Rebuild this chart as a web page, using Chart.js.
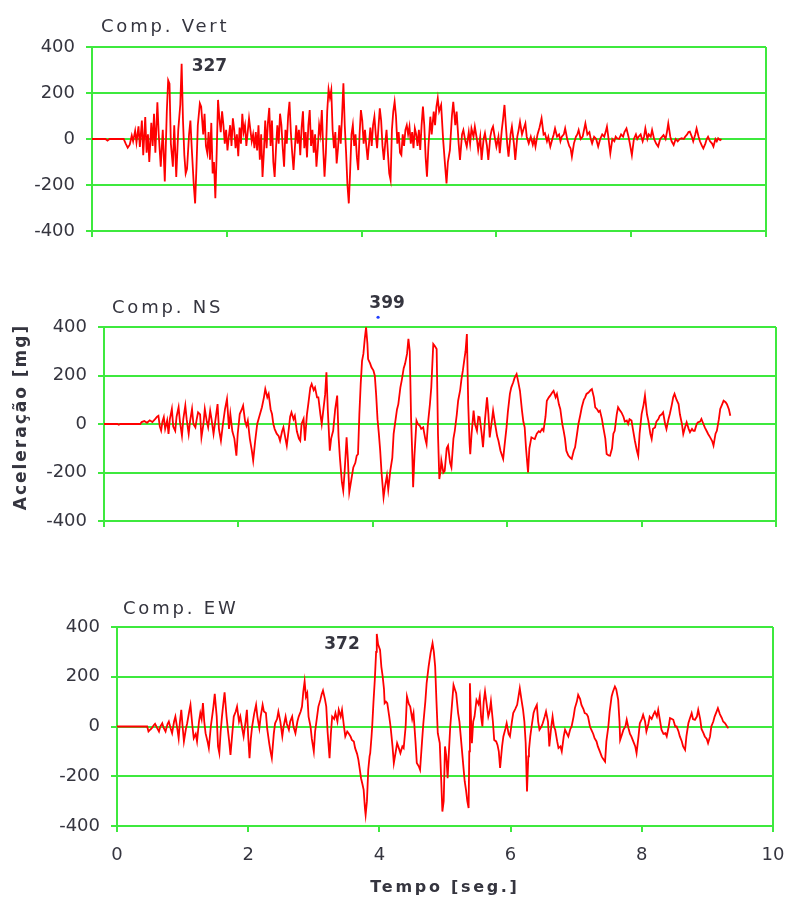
<!DOCTYPE html>
<html>
<head>
<meta charset="utf-8">
<script src="https://cdn.jsdelivr.net/npm/chart.js@4.4.1/dist/chart.umd.min.js"></script>
<style>
  body { margin: 0; background: #fff; }
  #wrap { position: relative; width: 785px; height: 899px; }
  canvas { position: absolute; left: 0; }
</style>
</head>
<body>
<div id="wrap">
  <canvas id="cVert" width="785" height="262" style="top:0"></canvas>
  <canvas id="cNS" width="785" height="300" style="top:262px"></canvas>
  <canvas id="cEW" width="785" height="337" style="top:562px"></canvas>
</div>
<script>
// axis ticks
const timeTicks = [0, 2, 4, 6, 8, 10];
const accelTicks = [-400, -200, 0, 200, 400];

// peak values written on each panel
const panelNames = ['Comp. Vert', 'Comp. NS', 'Comp. EW'];
const peakTime = [1.33, 3.90, 3.96];
const peakValue = [327, 399, 372];

// Comp. Vert  (time [s], acceleration [mg])
const vertTime = [0,0.20,0.23,0.26,0.47,0.50,0.53,0.56,0.59,0.61,0.64,0.66,0.69,0.71,0.74,0.76,0.79,0.81,0.83,0.85,0.88,0.90,0.92,0.94,0.97,0.99,1.02,1.05,1.08,1.11,1.13,1.15,1.17,1.20,1.22,1.25,1.28,1.31,1.33,1.35,1.37,1.39,1.41,1.44,1.46,1.48,1.51,1.53,1.55,1.57,1.60,1.62,1.65,1.67,1.69,1.71,1.73,1.75,1.77,1.79,1.81,1.83,1.85,1.87,1.89,1.91,1.93,1.95,1.97,1.99,2.01,2.03,2.05,2.07,2.09,2.11,2.13,2.15,2.17,2.19,2.21,2.23,2.25,2.27,2.29,2.31,2.33,2.35,2.37,2.39,2.41,2.43,2.45,2.47,2.49,2.51,2.53,2.55,2.57,2.59,2.61,2.63,2.65,2.67,2.69,2.71,2.73,2.75,2.77,2.79,2.81,2.83,2.85,2.87,2.89,2.91,2.93,2.95,2.97,2.99,3.01,3.03,3.05,3.07,3.09,3.11,3.13,3.15,3.17,3.19,3.21,3.23,3.25,3.27,3.29,3.31,3.33,3.35,3.37,3.39,3.41,3.43,3.45,3.47,3.49,3.51,3.53,3.55,3.57,3.59,3.61,3.63,3.65,3.67,3.69,3.71,3.73,3.75,3.77,3.79,3.81,3.83,3.85,3.87,3.89,3.91,3.93,3.95,3.97,3.99,4.01,4.03,4.05,4.07,4.09,4.11,4.13,4.15,4.17,4.19,4.21,4.23,4.25,4.27,4.29,4.31,4.33,4.35,4.37,4.39,4.41,4.43,4.45,4.47,4.49,4.51,4.53,4.55,4.57,4.59,4.61,4.63,4.65,4.67,4.69,4.71,4.73,4.75,4.77,4.79,4.81,4.83,4.85,4.87,4.89,4.91,4.93,4.95,4.97,4.99,5.02,5.04,5.07,5.09,5.11,5.13,5.15,5.18,5.21,5.24,5.26,5.28,5.31,5.34,5.36,5.39,5.41,5.44,5.46,5.49,5.51,5.54,5.56,5.59,5.61,5.63,5.66,5.68,5.71,5.73,5.76,5.78,5.81,5.83,5.86,5.88,5.91,5.93,5.95,5.98,6.00,6.03,6.05,6.08,6.10,6.12,6.14,6.16,6.18,6.21,6.23,6.26,6.28,6.31,6.33,6.35,6.38,6.40,6.43,6.45,6.48,6.51,6.54,6.56,6.58,6.61,6.64,6.67,6.70,6.72,6.75,6.77,6.80,6.83,6.85,6.87,6.90,6.93,6.95,6.97,7.00,7.02,7.05,7.08,7.10,7.12,7.15,7.18,7.20,7.22,7.25,7.28,7.30,7.32,7.35,7.38,7.40,7.42,7.45,7.48,7.51,7.54,7.57,7.60,7.62,7.64,7.66,7.69,7.72,7.75,7.77,7.79,7.82,7.85,7.88,7.90,7.93,7.96,7.98,8.01,8.04,8.07,8.09,8.11,8.14,8.17,8.19,8.21,8.24,8.26,8.29,8.31,8.34,8.37,8.40,8.43,8.46,8.48,8.51,8.53,8.55,8.58,8.60,8.63,8.66,8.69,8.72,8.75,8.78,8.80,8.83,8.85,8.87,8.90,8.92,8.95,8.97,9.00,9.02,9.05,9.07,9.10,9.12,9.14,9.17,9.20,9.22,9.25,9.27,9.29,9.32,9.34];
const vertAccel = [0,0,-7,0,0,-20,-38,-25,15,-10,35,-15,55,-35,80,-70,95,-60,20,-100,70,-30,110,-60,160,20,-120,40,-185,120,255,240,-20,-120,60,-165,40,150,327,80,-70,-150,-130,20,80,-40,-200,-280,-120,60,155,140,20,110,-30,-60,30,-90,70,-150,-100,-258,-60,170,90,30,120,60,-20,40,-50,10,60,-30,90,40,-40,20,-75,50,-20,110,30,60,-30,30,90,40,-10,20,-40,30,-50,60,-90,20,-165,-60,80,-40,70,135,-30,80,-100,-165,-40,60,-20,110,60,-40,-120,40,-20,100,162,30,-60,-135,-40,60,-20,40,-70,50,120,-40,30,-80,60,126,-30,40,-60,20,-120,-40,60,20,126,-40,-164,-60,120,216,180,213,40,-40,30,-106,-40,60,-20,100,242,60,-60,-200,-280,-140,20,61,-30,20,-80,-135,20,126,80,-20,40,-30,-91,-20,50,-30,60,97,20,-40,50,133,80,-30,-91,-20,40,-60,-150,-178,40,120,162,100,-20,30,-60,-70,20,-30,40,60,20,54,-20,30,-40,46,20,-30,40,-48,60,141,60,-80,-164,-40,97,20,119,60,140,177,120,148,-4,-120,-193,-100,-48,100,162,60,119,-20,-91,20,39,-10,-33,30,-20,46,10,54,0,-48,10,-91,0,25,-30,-91,10,40,54,0,-33,10,-62,40,90,148,60,-20,-77,20,54,-20,-91,10,40,75,20,40,68,10,-19,10,-25,0,-33,20,50,90,20,25,-10,10,-33,0,20,46,10,20,-10,10,20,46,0,-30,-40,-77,-20,10,20,39,0,10,40,68,20,30,0,-19,10,0,-33,0,20,10,30,54,10,-62,0,-10,10,3,0,20,10,30,46,10,-20,-70,0,20,0,10,20,-10,10,46,0,20,10,39,0,-20,-33,0,10,17,0,30,68,10,-10,-26,0,-10,0,3,0,10,20,30,32,10,-10,20,46,10,-10,-30,-41,-20,0,10,-10,-20,-33,0,-10,3,-5,0];

// Comp. NS
const nsTime = [0,0.20,0.22,0.24,0.54,0.56,0.60,0.64,0.68,0.72,0.76,0.79,0.81,0.83,0.85,0.87,0.89,0.91,0.94,0.96,0.98,1.01,1.03,1.06,1.08,1.11,1.13,1.16,1.18,1.21,1.23,1.26,1.28,1.31,1.33,1.36,1.38,1.40,1.43,1.45,1.48,1.50,1.53,1.55,1.58,1.60,1.63,1.66,1.69,1.71,1.74,1.77,1.80,1.83,1.86,1.88,1.91,1.94,1.97,1.99,2.02,2.05,2.07,2.10,2.12,2.14,2.17,2.20,2.22,2.25,2.28,2.31,2.35,2.38,2.40,2.43,2.45,2.48,2.50,2.52,2.54,2.57,2.60,2.62,2.65,2.67,2.70,2.72,2.75,2.77,2.79,2.82,2.84,2.87,2.90,2.92,2.94,2.97,2.99,3.02,3.04,3.07,3.09,3.12,3.14,3.17,3.19,3.22,3.24,3.26,3.29,3.31,3.33,3.36,3.38,3.41,3.44,3.47,3.49,3.51,3.54,3.56,3.58,3.61,3.63,3.65,3.68,3.71,3.74,3.76,3.78,3.80,3.82,3.84,3.86,3.88,3.90,3.92,3.93,3.96,3.98,4.01,4.03,4.05,4.07,4.09,4.11,4.13,4.16,4.18,4.21,4.23,4.26,4.29,4.31,4.34,4.36,4.38,4.41,4.43,4.46,4.48,4.51,4.53,4.55,4.57,4.59,4.60,4.62,4.65,4.67,4.70,4.72,4.75,4.78,4.80,4.82,4.85,4.87,4.90,4.92,4.95,4.97,4.99,5.01,5.02,5.05,5.07,5.10,5.12,5.15,5.17,5.20,5.22,5.25,5.27,5.30,5.32,5.34,5.36,5.38,5.40,5.42,5.44,5.45,5.47,5.50,5.52,5.55,5.57,5.59,5.62,5.64,5.67,5.70,5.72,5.74,5.77,5.79,5.82,5.85,5.87,5.90,5.94,5.96,5.99,6.01,6.04,6.06,6.09,6.11,6.14,6.16,6.19,6.22,6.24,6.26,6.28,6.31,6.33,6.36,6.39,6.41,6.44,6.47,6.49,6.52,6.54,6.57,6.59,6.62,6.64,6.67,6.69,6.72,6.74,6.77,6.79,6.82,6.84,6.86,6.88,6.91,6.94,6.96,6.99,7.01,7.04,7.06,7.09,7.11,7.14,7.16,7.18,7.21,7.24,7.26,7.29,7.31,7.34,7.36,7.38,7.41,7.43,7.46,7.48,7.51,7.53,7.56,7.58,7.60,7.63,7.65,7.68,7.70,7.73,7.75,7.78,7.80,7.82,7.85,7.87,7.90,7.93,7.95,7.97,8.00,8.03,8.05,8.08,8.10,8.13,8.15,8.17,8.20,8.22,8.25,8.27,8.30,8.32,8.35,8.37,8.40,8.42,8.45,8.47,8.49,8.52,8.55,8.57,8.60,8.62,8.65,8.67,8.70,8.72,8.75,8.77,8.79,8.82,8.84,8.87,8.89,8.92,8.94,8.97,8.99,9.02,9.05,9.07,9.10,9.12,9.15,9.17,9.20,9.22,9.25,9.27,9.30,9.32];
const nsAccel = [0,0,-3,0,0,8,12,5,15,8,20,30,34,-10,-27,10,28,-20,15,-41,20,62,-10,-28,30,69,10,-48,20,76,20,-41,10,62,0,-14,20,48,40,-55,0,62,10,-14,55,20,-41,20,82,-20,-69,0,60,103,-20,41,-30,-60,-131,-40,41,60,76,10,-7,14,-60,-110,-151,-69,0,30,69,110,144,110,124,60,41,0,-21,-40,-50,-69,-30,-14,-60,-89,-20,30,48,20,34,-30,-60,-69,0,21,-69,40,82,150,165,140,151,110,110,40,0,48,120,213,60,-110,-60,-28,60,117,-50,-138,-240,-275,-200,-55,-150,-282,-230,-179,-160,-131,-124,40,165,260,289,350,399,330,268,250,234,220,199,120,20,-40,-110,-200,-302,-260,-213,-270,-193,-140,-41,20,60,82,150,179,230,248,290,351,300,20,-150,-261,-130,14,0,-7,-20,-14,-60,-83,0,82,150,330,323,309,-41,-227,-190,-151,-200,-193,-100,-89,-160,-179,-60,-28,40,96,140,186,220,261,300,371,82,-80,-124,-40,55,0,-28,30,28,-40,-96,20,110,40,-55,10,55,0,-50,-69,-110,-144,-90,-14,50,124,150,172,190,206,180,137,55,10,-14,-100,-200,-100,-55,-60,-62,-40,-30,-34,-20,-28,30,96,110,117,130,137,110,124,80,62,0,-28,-60,-110,-130,-140,-144,-110,-96,-40,0,40,69,100,110,124,130,140,144,110,69,60,50,55,20,-14,-60,-124,-130,-131,-100,-40,-28,40,69,55,48,30,10,14,0,20,14,-20,-69,-110,-131,-40,41,80,117,40,14,-40,-62,-20,-14,10,20,34,40,48,0,-21,20,41,80,110,124,100,82,40,0,-41,-10,7,-20,-34,-20,-28,-28,0,7,10,21,0,-14,-30,-41,-55,-70,-89,-40,-28,20,62,82,96,90,82,60,34];

// Comp. EW
const ewTime = [0,0.46,0.48,0.51,0.53,0.56,0.58,0.61,0.64,0.66,0.69,0.71,0.74,0.77,0.79,0.82,0.84,0.87,0.89,0.92,0.94,0.96,0.98,1.00,1.02,1.05,1.07,1.10,1.12,1.15,1.17,1.20,1.22,1.25,1.27,1.29,1.31,1.33,1.35,1.38,1.40,1.43,1.45,1.47,1.49,1.52,1.54,1.56,1.58,1.60,1.62,1.64,1.67,1.69,1.71,1.73,1.76,1.78,1.81,1.83,1.86,1.88,1.91,1.93,1.96,1.98,2.00,2.02,2.04,2.06,2.09,2.12,2.14,2.17,2.19,2.22,2.24,2.27,2.29,2.32,2.34,2.36,2.39,2.41,2.44,2.46,2.49,2.52,2.54,2.57,2.59,2.62,2.64,2.67,2.69,2.72,2.75,2.77,2.80,2.82,2.84,2.86,2.88,2.90,2.92,2.95,2.97,3.00,3.02,3.05,3.07,3.10,3.12,3.14,3.17,3.19,3.21,3.24,3.26,3.28,3.31,3.33,3.36,3.38,3.41,3.43,3.46,3.48,3.51,3.53,3.56,3.58,3.61,3.63,3.66,3.68,3.70,3.72,3.74,3.76,3.78,3.79,3.81,3.83,3.85,3.86,3.88,3.89,3.91,3.93,3.95,3.96,3.98,4.01,4.03,4.05,4.07,4.08,4.10,4.12,4.15,4.17,4.20,4.22,4.25,4.27,4.30,4.32,4.35,4.37,4.40,4.42,4.45,4.47,4.50,4.52,4.55,4.57,4.60,4.62,4.65,4.67,4.70,4.72,4.75,4.78,4.81,4.83,4.85,4.87,4.89,4.92,4.94,4.96,4.98,5.00,5.02,5.04,5.06,5.08,5.11,5.13,5.15,5.17,5.20,5.22,5.24,5.26,5.28,5.30,5.32,5.34,5.36,5.37,5.38,5.40,5.41,5.43,5.45,5.48,5.51,5.53,5.55,5.57,5.59,5.61,5.64,5.66,5.68,5.70,5.73,5.75,5.78,5.80,5.82,5.84,5.87,5.89,5.92,5.94,5.97,5.99,6.02,6.04,6.07,6.10,6.12,6.14,6.17,6.19,6.21,6.23,6.25,6.27,6.28,6.30,6.32,6.35,6.37,6.40,6.42,6.44,6.47,6.49,6.52,6.54,6.57,6.59,6.62,6.64,6.66,6.68,6.71,6.73,6.76,6.78,6.81,6.83,6.86,6.88,6.91,6.93,6.96,6.98,7.01,7.03,7.06,7.08,7.11,7.13,7.16,7.18,7.21,7.23,7.26,7.28,7.31,7.33,7.36,7.39,7.41,7.44,7.46,7.49,7.51,7.54,7.56,7.59,7.61,7.64,7.66,7.67,7.70,7.72,7.75,7.77,7.80,7.82,7.84,7.87,7.90,7.92,7.95,7.97,8.00,8.02,8.05,8.07,8.10,8.12,8.15,8.18,8.20,8.23,8.25,8.28,8.30,8.33,8.36,8.38,8.41,8.43,8.46,8.48,8.51,8.53,8.56,8.58,8.61,8.63,8.66,8.68,8.71,8.73,8.76,8.78,8.81,8.84,8.86,8.89,8.91,8.94,8.96,8.99,9.01,9.04,9.06,9.09,9.11,9.14,9.16,9.19,9.22,9.24,9.27,9.30,9.32];
const ewAccel = [0,0,-20,-12,-7,5,11,-5,-20,0,13,-5,-20,10,20,-10,-27,20,40,-10,-47,20,67,0,-60,-10,13,60,87,0,-47,-30,-60,20,54,30,94,20,-27,-60,-87,0,40,80,131,40,-80,-107,-20,40,90,137,40,-13,-60,-114,-20,40,60,80,20,40,-10,-40,20,67,-40,-127,-50,0,50,87,40,-7,40,87,60,54,-10,-67,-100,-127,-30,13,30,60,20,-40,0,40,10,-13,20,40,0,-27,20,40,60,80,140,181,120,134,40,0,-50,-100,-20,40,80,107,130,145,110,80,-20,-127,-30,40,30,54,20,67,40,67,0,-40,-20,-27,-40,-54,-60,-87,-110,-134,-170,-208,-230,-255,-330,-355,-300,-174,-120,-107,-40,0,100,188,300,372,330,308,240,201,150,94,100,94,40,0,-80,-147,-100,-67,-90,-107,-80,-87,0,121,90,80,30,54,-60,-147,-160,-174,-60,13,100,174,241,295,335,300,241,100,-27,-67,-200,-342,-300,-80,-120,-208,-100,0,100,167,150,134,54,20,-40,-100,-160,-220,-255,-300,-328,-100,174,0,-67,20,40,107,90,121,40,0,100,141,80,40,60,101,20,-54,-60,-74,-100,-167,-80,-40,-10,13,-30,-40,20,54,70,87,120,154,100,67,20,-67,-261,-120,-94,-40,0,54,70,87,20,-13,0,13,40,60,20,-80,0,40,0,-13,-60,-87,-80,-100,-40,-13,-30,-40,-10,0,40,74,100,127,110,87,70,54,50,40,0,-13,-30,-47,-60,-80,-100,-121,-130,-141,-60,0,60,121,140,161,150,107,20,-54,-30,-13,0,27,-10,-30,-40,-60,-80,-107,-40,13,30,47,20,-20,10,40,30,50,60,40,67,20,-13,-30,-27,-40,0,34,30,27,0,0,-20,-40,-60,-80,-94,-40,13,30,54,30,27,40,67,30,-10,-27,-40,-50,-67,-40,0,20,40,60,74,50,34,20,13,0,-7];

const GREEN = '#3ee93e';
const RED = '#ff0000';
const INK = '#35353f';
const FONT = "'DejaVu Sans', sans-serif";

function textsPlugin(p) {
	return {
		id: 'texts' + p.index,
		afterDraw(chart) {
			const ctx = chart.ctx;
			const xs = chart.scales.x, ys = chart.scales.y;
			ctx.save();
			ctx.fillStyle = INK;
			ctx.textBaseline = 'middle';

			// panel name
			ctx.font = '18px ' + FONT;
			ctx.letterSpacing = '2.8px';
			ctx.textAlign = 'left';
			ctx.fillText(panelNames[p.index], p.nameX, p.nameY);

			// peak value
			const px = xs.getPixelForValue(peakTime[p.index]);
			const py = ys.getPixelForValue(peakValue[p.index]);
			ctx.font = 'bold 17px ' + FONT;
			ctx.letterSpacing = '0px';
			ctx.textAlign = p.peakAlign;
			ctx.fillText(String(peakValue[p.index]), px + p.peakDx, py + p.peakDy);

			if (p.index === 1) {
				ctx.fillStyle = '#1f3cff';
				ctx.beginPath();
				ctx.arc(px + 12, py - 10, 1.6, 0, Math.PI * 2);
				ctx.fill();

				// y axis title
				ctx.fillStyle = INK;
				ctx.font = 'bold 17px ' + FONT;
				ctx.letterSpacing = '2px';
				ctx.textAlign = 'center';
				ctx.translate(22, 155);
				ctx.rotate(-Math.PI / 2);
				ctx.fillText('Aceleração [mg]', 0, 0);
			}
			if (p.index === 2) {
				ctx.font = 'bold 16px ' + FONT;
				ctx.letterSpacing = '2.7px';
				ctx.textAlign = 'center';
				ctx.fillText('Tempo [seg.]', (chart.chartArea.left + chart.chartArea.right) / 2, 326);
			}
			ctx.restore();
		}
	};
}

function makePanel(canvasId, time, accel, p) {
	const points = time.map((t, i) => ({ x: t, y: accel[i] }));
	return new Chart(document.getElementById(canvasId), {
		type: 'line',
		data: {
			datasets: [{
				data: points,
				borderColor: RED,
				borderWidth: 1.8,
				pointRadius: 0,
				tension: 0
			}]
		},
		options: {
			responsive: false,
			animation: false,
			layout: { padding: { top: p.top, right: p.right, left: 0, bottom: 0 } },
			plugins: {
				legend: { display: false },
				tooltip: { enabled: false }
			},
			scales: {
				x: {
					type: 'linear',
					min: 0,
					max: 10,
					afterBuildTicks: (s) => { s.ticks = timeTicks.map(v => ({ value: v })); },
					afterFit: (s) => {
						s.height = p.xHeight;
						s.paddingLeft = 0;      // keep the plot edges where they are
						s.paddingRight = 0;
					},
					ticks: {
						display: p.showX,
						color: INK,
						padding: 13,
						maxRotation: 0,
						font: { family: FONT, size: 18 }
					},
					grid: {
						color: (c) => (c.tick && (c.tick.value === 0 || c.tick.value === 10)) ? GREEN : 'rgba(0,0,0,0)',
						tickColor: GREEN,
						lineWidth: 2,
						tickLength: 6
					},
					border: { display: false }
				},
				y: {
					min: -400,
					max: 400,
					afterBuildTicks: (s) => { s.ticks = accelTicks.map(v => ({ value: v })); },
					afterFit: (s) => { s.width = p.left; },
					ticks: {
						color: INK,
						padding: 11,
						font: { family: FONT, size: 18 }
					},
					grid: { color: GREEN, lineWidth: 2, tickLength: 6 },
					border: { color: GREEN, width: 2 }
				}
			}
		},
		plugins: [textsPlugin(p)]
	});
}

makePanel('cVert', vertTime, vertAccel, {
	index: 0, left: 92, right: 19, top: 47, xHeight: 31, showX: false,
	nameX: 101, nameY: 27, peakAlign: 'left', peakDx: 10, peakDy: 3
});
makePanel('cNS', nsTime, nsAccel, {
	index: 1, left: 104, right: 9, top: 65, xHeight: 41, showX: false,
	nameX: 112, nameY: 46, peakAlign: 'center', peakDx: 21, peakDy: -24
});
makePanel('cEW', ewTime, ewAccel, {
	index: 2, left: 117, right: 12, top: 65, xHeight: 73, showX: true,
	nameX: 123, nameY: 47, peakAlign: 'right', peakDx: -17, peakDy: 11
});
</script>
</body>
</html>
